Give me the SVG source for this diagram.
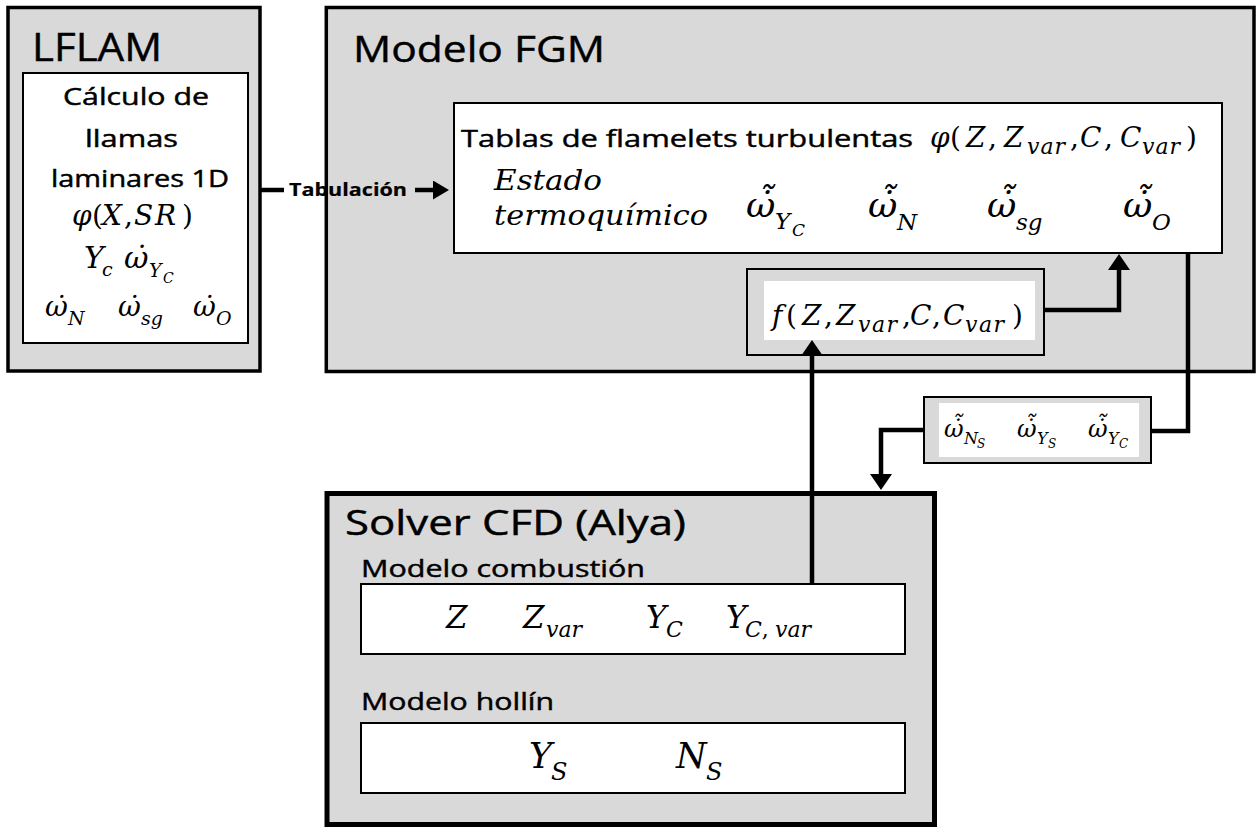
<svg xmlns="http://www.w3.org/2000/svg" width="1258" height="828" viewBox="0 0 1258 828">
  <style>
    .panel { fill: #d9d9d9; stroke: #000; }
    .card { fill: #fff; stroke: #000; stroke-width: 2; }
    .sans { font-family: "Open Sans", "Noto Sans", sans-serif; font-weight: 500; fill: #000; stroke: #000; stroke-width: 0.45; }
    .bold { font-weight: 700; stroke-width: 0.2; }
    .m { font-family: "DejaVu Serif", "Liberation Serif", serif; font-style: italic; fill: #000; }
    .up { font-style: normal; }
    .wire { fill: none; stroke: #000; stroke-width: 4.5; }
  </style>
  <defs>
    <marker id="head" viewBox="0 0 16 22" refX="0" refY="11" markerWidth="16" markerHeight="22" markerUnits="userSpaceOnUse" orient="auto">
      <path d="M0,0 L16,11 L0,22 z" fill="#000"/>
    </marker>
    <marker id="headSm" viewBox="0 0 16 19" refX="0" refY="9.5" markerWidth="16" markerHeight="19" markerUnits="userSpaceOnUse" orient="auto">
      <path d="M0,0 L16,9.5 L0,19 z" fill="#000"/>
    </marker>
  </defs>

  <rect width="1258" height="828" fill="#fff"/>

  <!-- LFLAM: 1D laminar flame solver -->
  <g id="lflam">
    <rect class="panel" x="8" y="7.5" width="252" height="363.5" stroke-width="3.5"/>
    <text class="sans" x="32" y="61" font-size="39" textLength="130" lengthAdjust="spacingAndGlyphs">LFLAM</text>
    <rect class="card" x="23" y="73" width="225" height="270"/>
    <text class="sans" x="63" y="105" font-size="23" textLength="146" lengthAdjust="spacingAndGlyphs">Cálculo de</text>
    <text class="sans" x="85" y="147" font-size="23" textLength="93" lengthAdjust="spacingAndGlyphs">llamas</text>
    <text class="sans" x="51" y="187" font-size="23" textLength="178" lengthAdjust="spacingAndGlyphs">laminares 1D</text>
    <text class="m" font-size="28" y="225"><tspan x="72">φ</tspan><tspan class="up" x="92">(</tspan><tspan x="102">X</tspan><tspan class="up" x="124">,</tspan><tspan x="134">S</tspan><tspan x="155">R</tspan><tspan class="up" x="182">)</tspan></text>
    <text class="m" font-size="30" x="84" y="268">Y<tspan x="102" y="276" font-size="19">c</tspan></text>
    <text class="m" font-size="30" x="124" y="268">ω̇<tspan x="149" y="277" font-size="19">Y</tspan><tspan x="163" y="283" font-size="14">C</tspan></text>
    <text class="m" font-size="28" x="45" y="316">ω̇<tspan x="68" y="325" font-size="19">N</tspan></text>
    <text class="m" font-size="28" x="118" y="316">ω̇<tspan x="141" y="325" font-size="19">sg</tspan></text>
    <text class="m" font-size="28" x="193" y="316">ω̇<tspan x="216" y="325" font-size="19">O</tspan></text>
  </g>

  <!-- Modelo FGM container -->
  <g id="fgm">
    <rect class="panel" x="326.3" y="7.5" width="927.7" height="364" stroke-width="3.5"/>
    <text class="sans" x="353" y="62" font-size="37" textLength="252" lengthAdjust="spacingAndGlyphs">Modelo FGM</text>
  </g>

  <!-- Turbulent flamelet tables -->
  <g id="tablas">
    <rect class="card" x="454" y="103" width="768" height="150"/>
    <text class="sans" x="461" y="147" font-size="24" textLength="452" lengthAdjust="spacingAndGlyphs">Tablas de flamelets turbulentas</text>
    <text class="m" font-size="28" y="147"><tspan x="930">φ</tspan><tspan class="up" x="950">(</tspan><tspan x="966">Z</tspan><tspan class="up" x="988">,</tspan><tspan x="1004">Z</tspan><tspan x="1027" y="154" font-size="22" letter-spacing="1">var</tspan><tspan class="up" x="1070" y="147">,</tspan><tspan x="1080">C</tspan><tspan class="up" x="1104">,</tspan><tspan x="1120">C</tspan><tspan x="1142" y="154" font-size="22" letter-spacing="1">var</tspan><tspan class="up" x="1186" y="147">)</tspan></text>
    <text class="m" font-size="28" x="494" y="190" textLength="108" lengthAdjust="spacingAndGlyphs">Estado</text>
    <text class="m" font-size="28" x="494" y="225" textLength="214" lengthAdjust="spacingAndGlyphs">termoquímico</text>

    <text class="m" font-size="36" x="746" y="217">ω̇̃<tspan x="775" y="229" font-size="23">Y</tspan><tspan x="792" y="236" font-size="17">C</tspan></text>
    <text class="m" font-size="36" x="868" y="217">ω̇̃<tspan x="897" y="230" font-size="23">N</tspan></text>
    <text class="m" font-size="36" x="987" y="217">ω̇̃<tspan x="1016" y="230" font-size="23">sg</tspan></text>
    <text class="m" font-size="36" x="1123" y="217">ω̇̃<tspan x="1152" y="230" font-size="23">O</tspan></text>
  </g>

  <!-- Presumed PDF -->
  <g id="pdf">
    <rect class="panel" x="747" y="269" width="297" height="86" stroke-width="2"/>
    <rect x="764" y="281" width="271" height="59" fill="#fff"/>
    <text class="m" font-size="28" y="325"><tspan x="772">f</tspan><tspan class="up" x="786">(</tspan><tspan x="802">Z</tspan><tspan class="up" x="824">,</tspan><tspan x="836">Z</tspan><tspan x="858" y="332" font-size="22" letter-spacing="1.5">var</tspan><tspan class="up" x="902" y="325">,</tspan><tspan x="910">C</tspan><tspan class="up" x="932">,</tspan><tspan x="943">C</tspan><tspan x="965" y="332" font-size="22" letter-spacing="1.5">var</tspan><tspan class="up" x="1012" y="325">)</tspan></text>
  </g>

  <!-- Filtered soot source terms -->
  <g id="fuentes">
    <rect class="panel" x="924" y="397" width="227" height="66" stroke-width="2"/>
    <rect x="939" y="403" width="200" height="54" fill="#fff"/>
    <text class="m" font-size="24" x="944" y="437">ω̇̃<tspan x="964" y="444" font-size="16">N</tspan><tspan x="977" y="448" font-size="12">S</tspan></text>
    <text class="m" font-size="24" x="1017" y="437">ω̇̃<tspan x="1037" y="444" font-size="16">Y</tspan><tspan x="1048" y="448" font-size="12">S</tspan></text>
    <text class="m" font-size="24" x="1088" y="437">ω̇̃<tspan x="1108" y="444" font-size="16">Y</tspan><tspan x="1119" y="448" font-size="12">C</tspan></text>
  </g>

  <!-- CFD solver -->
  <g id="solver">
    <rect class="panel" x="327" y="493.5" width="607.5" height="331" stroke-width="5"/>
    <text class="sans" x="345" y="535" font-size="35" textLength="341" lengthAdjust="spacingAndGlyphs">Solver CFD (Alya)</text>
    <text class="sans" x="361" y="577" font-size="24" textLength="284" lengthAdjust="spacingAndGlyphs">Modelo combustión</text>
    <rect class="card" x="361" y="584" width="544" height="70" stroke-width="2.5"/>
    <text class="m" font-size="31" x="446" y="628">Z</text>
    <text class="m" font-size="31" x="523" y="628">Z<tspan x="546" y="637" font-size="22">var</tspan></text>
    <text class="m" font-size="31" x="646" y="628">Y<tspan x="666" y="637" font-size="22">C</tspan></text>
    <text class="m" font-size="31" x="726" y="628">Y<tspan x="745" y="637" font-size="22">C</tspan><tspan class="up" font-size="22">,</tspan><tspan x="775" y="637" font-size="22">var</tspan></text>
    <text class="sans" x="361" y="710" font-size="24" textLength="193" lengthAdjust="spacingAndGlyphs">Modelo hollín</text>
    <rect class="card" x="361" y="723" width="544" height="70" stroke-width="2.5"/>
    <text class="m" font-size="35" x="529" y="768">Y<tspan x="551" y="780" font-size="24">S</tspan></text>
    <text class="m" font-size="35" x="676" y="768">N<tspan x="706" y="780" font-size="24">S</tspan></text>
  </g>

  <!-- Connectors -->
  <g id="connectors">
    <line class="wire" x1="260" y1="190" x2="284" y2="190" stroke-width="4"/>
    <text class="sans bold" x="289" y="196" font-size="17" textLength="118" lengthAdjust="spacingAndGlyphs">Tabulación</text>
    <line class="wire" x1="415" y1="190" x2="433" y2="190" stroke-width="4" marker-end="url(#headSm)"/>
    <polyline class="wire" points="1044,310 1119,310 1119,270" marker-end="url(#head)"/>
    <line class="wire" x1="812" y1="584" x2="812" y2="356" marker-end="url(#head)"/>
    <polyline class="wire" points="1188,253 1188,431 1151,431"/>
    <polyline class="wire" points="924,430 881,430 881,474" marker-end="url(#head)"/>
  </g>
</svg>
